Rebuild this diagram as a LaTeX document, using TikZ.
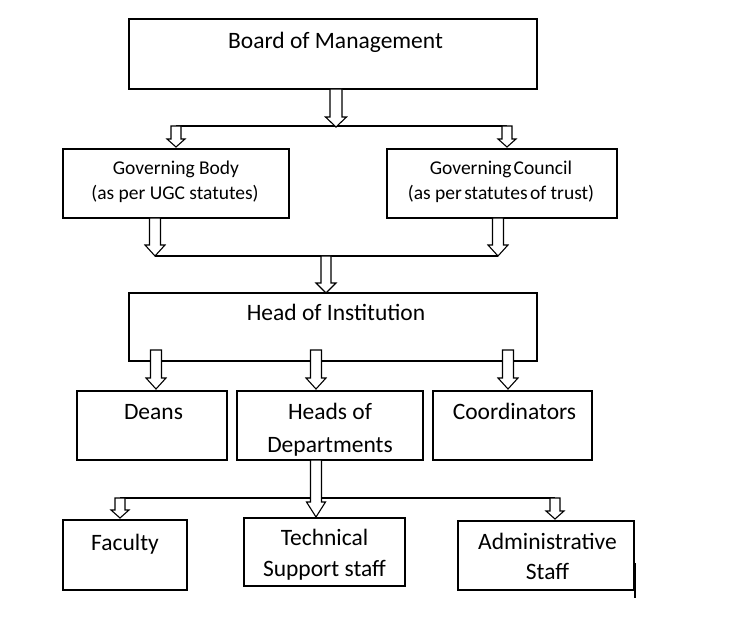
\documentclass[tikz,border=0pt]{standalone}
\usepackage{fontspec}
\setmainfont{Carlito}
\tikzset{
  box/.style={draw=black, line width=1.2pt, fill=white, inner sep=0pt},
  bigtxt/.style={anchor=base, inner sep=0pt, font=\fontsize{23.5}{28}\selectfont},
  smalltxt/.style={anchor=base, inner sep=0pt, font=\fontsize{19.5}{24}\selectfont},
  link/.style={draw=black, line width=1.2pt},
  harrowstyle/.style={draw=black, fill=white, line width=1.1pt, line join=miter}
}
% hollow block arrow: x, y start, y tip, shaft width, head width, head length
\newcommand\harrow[6]{%
  \path[harrowstyle] (#1-#4/2,#2) -- (#1-#4/2,#3-#6) -- (#1-#5/2,#3-#6) -- (#1,#3)
    -- (#1+#5/2,#3-#6) -- (#1+#4/2,#3-#6) -- (#1+#4/2,#2) -- cycle;}
\begin{document}
\begin{tikzpicture}[x=1pt,y=-1pt]
\useasboundingbox (0,0) rectangle (750,636);
% boxes
\node[box, minimum width=408, minimum height=70] (bom) at (333,54) {};
\node[box, minimum width=226, minimum height=69] (gb) at (176,183.5) {};
\node[box, minimum width=230, minimum height=69] (gc) at (502,183.5) {};
\node[box, minimum width=408, minimum height=68] (hoi) at (333,327) {};
\node[box, minimum width=150, minimum height=69] (deans) at (152,425.5) {};
\node[box, minimum width=186, minimum height=69] (hod) at (330,425.5) {};
\node[box, minimum width=159, minimum height=69] (coord) at (512.5,425.5) {};
\node[box, minimum width=124, minimum height=70] (fac) at (125,555) {};
\node[box, minimum width=161, minimum height=68] (ts) at (324.5,552) {};
\node[box, minimum width=176, minimum height=69] (adm) at (546,555.5) {};
% texts
\node[bigtxt] (tbom) at (335.5,49) {Board of Management};
\node[smalltxt] (tgb1) at (176,175) {Governing Body};
\node[smalltxt] (tgb2) at (175,200) {(as per UGC statutes)};
\node[smalltxt] (tgc1) at (501,175) {Governing\hspace{-0.12em} Council};
\node[smalltxt] (tgc2) at (501,200) {(as per\hspace{-0.1em} statutes\hspace{-0.1em} of trust)};
\node[bigtxt] (thoi) at (336,321) {Head of Institution};
\node[bigtxt] (tdeans) at (153.5,420) {Deans};
\node[bigtxt] (thod1) at (330,420) {Heads of};
\node[bigtxt] (thod2) at (330,452) {Departments};
\node[bigtxt] (tcoord) at (514.5,420) {Coordinators};
\node[bigtxt] (tfac) at (125,550) {Faculty};
\node[bigtxt] (tts1) at (324.5,545) {Technical};
\node[bigtxt] (tts2) at (324.5,576) {Support staff};
\node[bigtxt] (tadm1) at (547.5,549) {Administrative};
\node[bigtxt] (tadm2) at (547.5,579) {Staff};
% horizontal connector lines
\coordinate (j1l) at (176,126); \coordinate (j1r) at (507,126);
\coordinate (j2l) at (155,256); \coordinate (j2r) at (498,256);
\coordinate (j3l) at (120,498); \coordinate (j3r) at (555,498);
\draw[link] (j1l) -- (j1r);
\draw[link] (j2l) -- (j2r);
\draw[link] (j3l) -- (j3r);
% block arrows
\harrow{336}{89}{127}{12}{21}{10}
\harrow{176}{126}{147}{10}{18}{8}
\harrow{507}{126}{147}{10}{18}{8}
\harrow{155}{218}{256}{11}{20}{11}
\harrow{498}{218}{256}{11}{20}{11}
\harrow{326}{256}{293}{10}{20}{10}
\harrow{156}{350}{389}{11}{20}{11}
\harrow{316}{350}{389}{11}{20}{11}
\harrow{508}{350}{389}{11}{20}{11}
\harrow{316}{460}{517}{11}{19}{15}
\harrow{120}{498}{518}{10}{18}{8}
\harrow{555}{498}{519}{10}{18}{8}
% stray mark at right of Administrative Staff
\coordinate (m1) at (635,563); \coordinate (m2) at (635,598);
\draw[line width=1.2pt] (m1) -- (m2);
\end{tikzpicture}
\end{document}
